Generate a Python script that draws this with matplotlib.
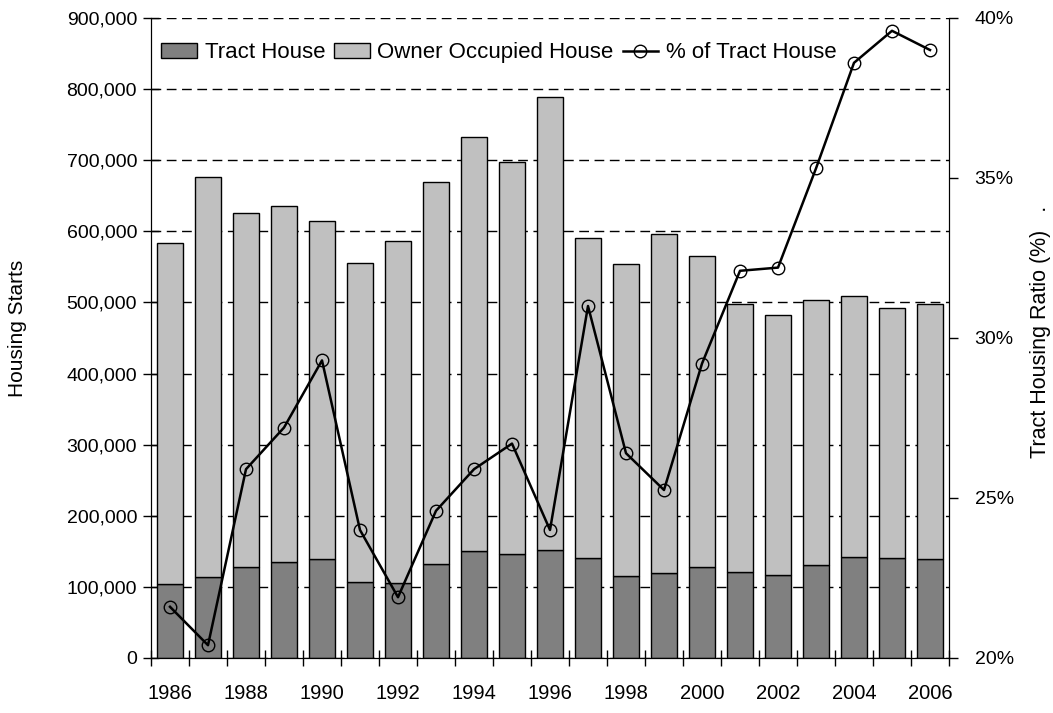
import numpy as np
import matplotlib
matplotlib.use("Agg")
import matplotlib.pyplot as plt
from matplotlib.ticker import FuncFormatter, FixedLocator

plt.rcParams['font.family'] = ['Liberation Sans', 'DejaVu Sans']

# values
years = list(range(1986, 2007))
total = [583000, 677000, 626000, 635000, 614000, 555000, 587000, 669000, 732000, 697000,
         789000, 591000, 554000, 596000, 566000, 498000, 483000, 504000, 509000, 492000, 498000]
tract = [104000, 114000, 128000, 135000, 139000, 107000, 105000, 132000, 150000, 146000,
         152000, 140000, 116000, 120000, 128000, 121000, 117000, 131000, 142000, 140000, 139000]
owner = [t - h for t, h in zip(total, tract)]
pct = [21.6, 20.4, 25.9, 27.2, 29.3, 24.0, 21.9, 24.6, 25.9, 26.7,
       24.0, 31.0, 26.4, 25.25, 29.2, 32.1, 32.2, 35.3, 38.6, 39.6, 39.0]

x = np.arange(len(years))

fig = plt.figure(figsize=(10.53, 7.13), dpi=100)
ax = fig.add_axes([151/1053, 55/713, 798/1053, 640/713])

ax.set_axisbelow(True)
ax.yaxis.grid(True, color='black', linestyle=(0, (7, 4)), linewidth=1)
b1 = ax.bar(x, tract, width=0.68, color='#808080', edgecolor='black', linewidth=1, zorder=2)
b2 = ax.bar(x, owner, width=0.68, bottom=tract, color='#c0c0c0', edgecolor='black', linewidth=1, zorder=2)

ax.set_xlim(-0.5, len(years) - 0.5)
ax.set_ylim(0, 900000)
ax.set_yticks(np.arange(0, 900001, 100000))
ax.yaxis.set_major_formatter(FuncFormatter(lambda v, p: f"{int(v):,}"))
ax.tick_params(axis='y', direction='inout', length=12, width=1, labelsize=14, pad=4)

ax.xaxis.set_major_locator(FixedLocator(np.arange(-0.5, len(years), 1)))
ax.xaxis.set_minor_locator(FixedLocator(x[::2]))
ax.set_xticklabels([], minor=False)
ax.set_xticklabels([str(y) for y in years[::2]], minor=True)
ax.tick_params(axis='x', which='major', direction='inout', length=11, width=1)
ax.tick_params(axis='x', which='minor', length=0, labelsize=14.5, pad=19)

ax.spines['top'].set_visible(False)
ax.set_ylabel('Housing Starts', fontsize=15)
ax.yaxis.set_label_coords(-0.155, 0.515)

ax2 = ax.twinx()
ln, = ax2.plot(x, pct, color='black', linewidth=1.8, marker='o', markersize=9,
               markerfacecolor='none', markeredgecolor='black', markeredgewidth=1, zorder=3)
ax2.set_ylim(20, 40)
ax2.set_yticks([20, 25, 30, 35, 40])
ax2.yaxis.set_major_formatter(FuncFormatter(lambda v, p: f"{int(v)}%"))
ax2.tick_params(axis='y', direction='out', length=6.5, width=1, labelsize=14, pad=12)
ax2.spines['top'].set_visible(False)
ax2.set_ylabel('Tract Housing Ratio (%)   .', fontsize=15.5)
ax2.yaxis.set_label_coords(1.101, 0.51)

ax2.legend([b1, b2, ln], ['Tract House', 'Owner Occupied House', '% of Tract House'],
           loc='upper left', bbox_to_anchor=(0.013, 0.962), ncol=3, frameon=False,
           fontsize=16, handlelength=1.6, handletextpad=0.35, columnspacing=0.4,
           borderpad=0, borderaxespad=0)

fig.savefig('out.png', dpi=100)
